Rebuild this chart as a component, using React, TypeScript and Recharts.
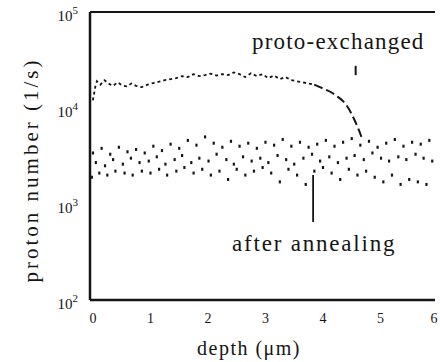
import React from 'react';
import {
  ComposedChart,
  Line,
  Scatter,
  XAxis,
  YAxis,
  ReferenceLine,
} from 'recharts';

// proto-exchanged profile (depth in µm, counts in 1/s)
const protoDepth = [
  0.05, 0.09, 0.12, 0.18, 0.25, 0.32, 0.4, 0.48, 0.56, 0.64, 0.72, 0.8, 0.9, 1.0, 1.1, 1.2, 1.3,
  1.4, 1.5, 1.6, 1.7, 1.8, 1.9, 2.0, 2.1, 2.2, 2.3, 2.4, 2.5, 2.6, 2.7, 2.8, 2.9, 3.0, 3.1, 3.2,
  3.3, 3.4, 3.5, 3.6, 3.7, 3.8, 3.9,
];
const protoCounts = [
  12000, 16500, 19000, 17500, 19500, 18000, 17000, 18500, 17200, 16800, 18000, 17000, 16500,
  17500, 18200, 18800, 19500, 20000, 20500, 21500, 21000, 22500, 21500, 22000, 22800, 21800,
  22500, 22000, 23500, 22500, 21000, 23000, 21500, 22500, 20500, 21800, 20000, 21000, 19500,
  19000, 18500, 18000, 17500,
];
// the falling edge, drawn as a dashed curve
const protoTailDepth = [3.9, 4.0, 4.1, 4.2, 4.3, 4.4, 4.5, 4.6, 4.68, 4.72];
const protoTailCounts = [17500, 16500, 15500, 14500, 13200, 11800, 9800, 7500, 5800, 5000];

// after annealing: three noisy rows of points
const annealDepthA = [
  0.05, 0.2, 0.35, 0.5, 0.65, 0.8, 0.95, 1.1, 1.25, 1.4, 1.55, 1.7, 1.85, 2.0, 2.15, 2.3, 2.45,
  2.6, 2.75, 2.9, 3.05, 3.2, 3.35, 3.5, 3.65, 3.8, 3.95, 4.1, 4.25, 4.4, 4.55, 4.7, 4.85, 5.0,
  5.15, 5.3, 5.45, 5.6, 5.75, 5.9,
];
const annealCountsA = [
  3400, 3800, 3300, 3900, 3500, 3700, 3400, 4000, 3600, 4200, 3800, 4600, 4100, 5000, 4300,
  3900, 4500, 4000, 4300, 3800, 4400, 4100, 4700, 4000, 4400, 3900, 4200, 4600, 4000, 4400,
  4800, 4100, 4500, 3900, 4300, 4700, 4000, 4400, 4200, 4600,
];
const annealDepthB = [
  0.1, 0.26, 0.4, 0.57, 0.71, 0.86, 1.02, 1.16, 1.31, 1.47, 1.6, 1.76, 1.9, 2.06, 2.2, 2.37,
  2.5, 2.66, 2.81, 2.96, 3.1, 3.26, 3.41, 3.55, 3.71, 3.86, 4.0, 4.16, 4.31, 4.46, 4.6, 4.76,
  4.91, 5.06, 5.2, 5.36, 5.5, 5.66, 5.8, 5.95,
];
const annealCountsB = [
  2700, 2500, 2900, 2600, 3000, 2700, 2800, 3100, 2600, 2900, 3200, 2700, 3000, 2800, 3300,
  2900, 2600, 3100, 2800, 3000, 2700, 3200, 2900, 2600, 3000, 3300, 2800, 3100, 2700, 3000,
  3200, 2900, 3400, 3000, 2800, 3100, 2900, 3300, 3000, 2800,
];
const annealDepthC = [
  0.03, 0.16, 0.3, 0.44, 0.6, 0.74, 0.9, 1.05, 1.2, 1.34, 1.5, 1.64, 1.8, 1.95, 2.1, 2.25, 2.4,
  2.55, 2.7, 2.85, 3.0, 3.15, 3.3, 3.45, 3.6, 3.75, 3.9, 4.05, 4.2, 4.35, 4.5, 4.65, 4.8, 4.95,
  5.1, 5.25, 5.4, 5.55, 5.7, 5.85,
];
const annealCountsC = [
  1900, 2100, 2000, 2200, 2100, 2000, 2200, 2100, 2300, 2000, 2200, 2400, 2100, 2300, 2000,
  2200, 1800, 2300, 2000, 2200, 2400, 2100, 1700, 2300, 2000, 1600, 2200, 2400, 2100, 1800,
  2300, 2000, 2200, 1900, 1700, 2000, 1600, 1800, 1700, 1600,
];

const xTicks = [0, 1, 2, 3, 4, 5, 6];
const yTicks = [100, 1000, 10000, 100000];

const INK = '#151515';
const SERIF = "'Liberation Serif', 'Times New Roman', Tinos, 'DejaVu Serif', serif";

const zip = (xs: number[], ys: number[]) => xs.map((d, i) => ({ depth: d, count: ys[i] }));

const protoData = zip(protoDepth, protoCounts);
const protoTail = zip(protoTailDepth, protoTailCounts);
const annealA = zip(annealDepthA, annealCountsA);
const annealB = zip(annealDepthB, annealCountsB);
const annealC = zip(annealDepthC, annealCountsC);

function Speck(props: any) {
  const { cx, cy } = props;
  if (cx == null || cy == null) return null;
  return <rect x={cx - 1} y={cy - 1.5} width={2.2} height={3} fill={INK} />;
}

function YTick({ x, y, payload }: any) {
  const exp = Math.round(Math.log10(payload.value));
  return (
    <text x={x - 8} y={y + 9} textAnchor="end" style={{ fontFamily: SERIF }} fontSize={15} fill={INK}>
      <tspan>10</tspan>
      <tspan dy={-7} fontSize={11}>
        {exp}
      </tspan>
    </text>
  );
}

function XTick({ x, y, payload }: any) {
  const dx = payload.value === 6 ? -1 : 3;
  return (
    <text x={x + dx} y={y + 21} textAnchor="middle" style={{ fontFamily: SERIF }} fontSize={14} fill={INK}>
      {payload.value}
    </text>
  );
}

const label: React.CSSProperties = {
  position: 'absolute',
  fontFamily: SERIF,
  color: INK,
  whiteSpace: 'nowrap',
  lineHeight: 1,
};

export default function App() {
  return (
    <div style={{ position: 'absolute', left: 0, top: 0, width: 440, height: 362, background: '#fff' }}>
      <ComposedChart width={440} height={362} margin={{ top: 12, right: 5, bottom: 0, left: 0 }}>
        <XAxis
          dataKey="depth"
          type="number"
          domain={[0, 6]}
          ticks={xTicks}
          height={62}
          tickLine={false}
          tickSize={0}
          axisLine={{ stroke: INK, strokeWidth: 2.5 }}
          tick={<XTick />}
          allowDataOverflow
        />
        <YAxis
          dataKey="count"
          type="number"
          scale="log"
          domain={[100, 100000]}
          ticks={yTicks}
          width={90}
          tickLine={false}
          tickSize={0}
          tickMargin={4}
          axisLine={{ stroke: INK, strokeWidth: 2.5 }}
          tick={<YTick />}
          allowDataOverflow
        />
        <ReferenceLine y={100000} stroke={INK} strokeWidth={2} ifOverflow="visible" />
        <Scatter data={annealA} dataKey="count" shape={<Speck />} isAnimationActive={false} />
        <Scatter data={annealB} dataKey="count" shape={<Speck />} isAnimationActive={false} />
        <Scatter data={annealC} dataKey="count" shape={<Speck />} isAnimationActive={false} />
        <Line
          data={protoData}
          dataKey="count"
          type="linear"
          stroke={INK}
          strokeWidth={1.8}
          strokeDasharray="3 3"
          dot={false}
          isAnimationActive={false}
        />
        <Line
          data={protoTail}
          dataKey="count"
          type="monotone"
          stroke={INK}
          strokeWidth={2}
          strokeDasharray="9 4"
          dot={false}
          isAnimationActive={false}
        />
        <ReferenceLine
          segment={[
            { x: 3.88, y: 2000 },
            { x: 3.88, y: 650 },
          ]}
          stroke={INK}
          strokeWidth={1.8}
        />
        <ReferenceLine
          segment={[
            { x: 4.62, y: 27500 },
            { x: 4.62, y: 22000 },
          ]}
          stroke={INK}
          strokeWidth={2}
        />
      </ComposedChart>
      <div style={{ ...label, left: 252, top: 30, fontSize: 23, letterSpacing: 1.2 }}>proto-exchanged</div>
      <div style={{ ...label, left: 232, top: 232, fontSize: 23, letterSpacing: 1.8 }}>after annealing</div>
      <div style={{ ...label, left: 197, top: 338, fontSize: 20, letterSpacing: 1.5 }}>depth (μm)</div>
      <div
        style={{
          ...label,
          left: 31,
          top: 170,
          fontSize: 21,
          letterSpacing: 3,
          transform: 'translate(-50%, -50%) rotate(-90deg)',
        }}
      >
        proton number (1/s)
      </div>
    </div>
  );
}
